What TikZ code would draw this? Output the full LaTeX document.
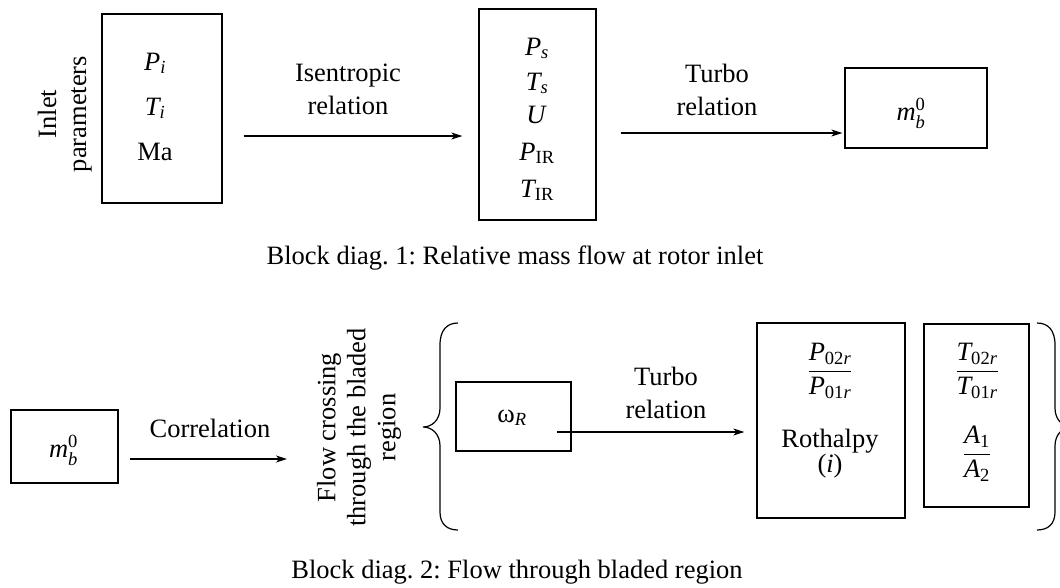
\documentclass[tikz,border=0pt]{standalone}
\usepackage{amsmath}
\usepackage{fontspec}
\setmainfont{Liberation Serif}
\usetikzlibrary{arrows.meta,calc}
\frenchspacing

\tikzset{
  blk/.style={draw, line width=1.3pt, inner sep=0pt},
  lbl/.style={inner sep=0pt, font=\fontsize{26.5}{33}\selectfont},
  vlbl/.style={inner sep=0pt, rotate=90, align=center, font=\fontsize{26.5}{30}\selectfont},
  flow/.style={line width=1.2pt, -{Stealth[length=11pt,width=7pt,inset=3pt]}},
  curly/.style={line width=1.2pt},
}

\begin{document}
\begin{tikzpicture}[x=1pt,y=-1pt]
\useasboundingbox (0,0) rectangle (1060,587);

% ---------- Block diagram 1 ----------
\node[vlbl] (inlettxt) at (64.8,114) {Inlet\\parameters};

\node[blk, minimum width=120pt, minimum height=189pt] (inlet) at (162,108.5) {};
\node[lbl, anchor=base] (pi) at (155,70)  {$\mathit{P}_{\mathit{i}}$};
\node[lbl, anchor=base] (ti) at (155,115) {$\mathit{T}_{\mathit{i}}$};
\node[lbl, anchor=base] (ma) at (155,160) {Ma};

\node[blk, minimum width=117pt, minimum height=211pt] (ps) at (537.5,114.5) {};
\node[lbl, anchor=base] (psv)  at (537,55)  {$\mathit{P}_{\mathit{s}}$};
\node[lbl, anchor=base] (tsv)  at (537,90)  {$\mathit{T}_{\mathit{s}}$};
\node[lbl, anchor=base] (uv)   at (536,123) {$\mathit{U}$};
\node[lbl, anchor=base] (pir)  at (537,160) {$\mathit{P}_{\mathrm{IR}}$};
\node[lbl, anchor=base] (tir)  at (537,197) {$\mathit{T}_{\mathrm{IR}}$};

\node[blk, minimum width=142pt, minimum height=80pt] (mbone) at (916,108) {};
\node[lbl, anchor=base] (mbonev) at (911,120) {$\mathit{m}_{\mathit{b}}^{\mathrm{0}}$};

\draw[flow] ($(inlet.east)+(21,27.5)$) -- ($(ps.west)+(-16,21.5)$);
\node[lbl, align=center] (isen) at (348,89.5) {Isentropic\\relation};

\draw[flow] ($(ps.east)+(24,18.5)$) -- ($(mbone.west)+(-2,25)$);
\node[lbl, align=center] (turboA) at (717,89.5) {Turbo\\relation};

\node[lbl, anchor=base] (capA) at (515,264) {Block diag. 1: Relative mass flow at rotor inlet};

% ---------- Block diagram 2 ----------
\node[blk, minimum width=107pt, minimum height=73pt] (mbtwo) at (64.5,446.5) {};
\node[lbl, anchor=base] (mbtwov) at (63.5,457) {$\mathit{m}_{\mathit{b}}^{\mathrm{0}}$};

\node[vlbl] (flowtxt) at (359,427.5) {Flow crossing\\through the bladed\\region};

\draw[flow] ($(mbtwo.east)+(11,12.5)$) -- ($(flowtxt.center)+(-72,31.5)$);
\node[lbl, anchor=base] (corr) at (210,437) {Correlation};

% left curly brace
\draw[curly] (458,323) .. controls (447,323) and (440,330) .. (440,345)
  -- (440,408) .. controls (440,420) and (432,427) .. (423,427)
  .. controls (432,427) and (440,434) .. (440,446)
  -- (440,512) .. controls (440,524) and (447,530) .. (458,530);

\node[blk, minimum width=115pt, minimum height=69pt] (om) at (513.5,416.5) {};
\node[lbl, anchor=base] (omv) at (512,422) {ω$_{\mathit{R}}$};

\node[blk, minimum width=148pt, minimum height=195pt] (roth) at (831,420.5) {};
\node[lbl, anchor=base] (pfrac) at (830,377.6)
  {$\displaystyle\frac{\mathit{P}_{\mathrm{02}\mathit{r}}}{\mathit{P}_{\mathrm{01}\mathit{r}}}$};
\node[lbl, anchor=base] (rothv) at (830,447) {Rothalpy};
\node[lbl, anchor=base] (iv) at (830,472) {(\textit{i})};

\node[blk, minimum width=105pt, minimum height=183pt] (tb) at (976.5,415.5) {};
\node[lbl, anchor=base] (tfrac) at (977,377.6)
  {$\displaystyle\frac{\mathit{T}_{\mathrm{02}\mathit{r}}}{\mathit{T}_{\mathrm{01}\mathit{r}}}$};
\node[lbl, anchor=base] (afrac) at (977,460.6)
  {$\displaystyle\frac{\mathit{A}_{\mathrm{1}}}{\mathit{A}_{\mathrm{2}}}$};

\draw[flow] ($(om.center)+(43.5,15.5)$) -- ($(roth.west)+(-12,11.5)$);
\node[lbl, align=center] (turboB) at (666,393) {Turbo\\relation};

% right curly brace
\draw[curly] (1037,323) .. controls (1048,323) and (1055,330) .. (1055,345)
  -- (1055,408) .. controls (1055,420) and (1063,427) .. (1072,427)
  .. controls (1063,427) and (1055,434) .. (1055,446)
  -- (1055,512) .. controls (1055,524) and (1048,530) .. (1037,530);

\node[lbl, anchor=base] (capB) at (517,578) {Block diag. 2: Flow through bladed region};
\end{tikzpicture}
\end{document}
